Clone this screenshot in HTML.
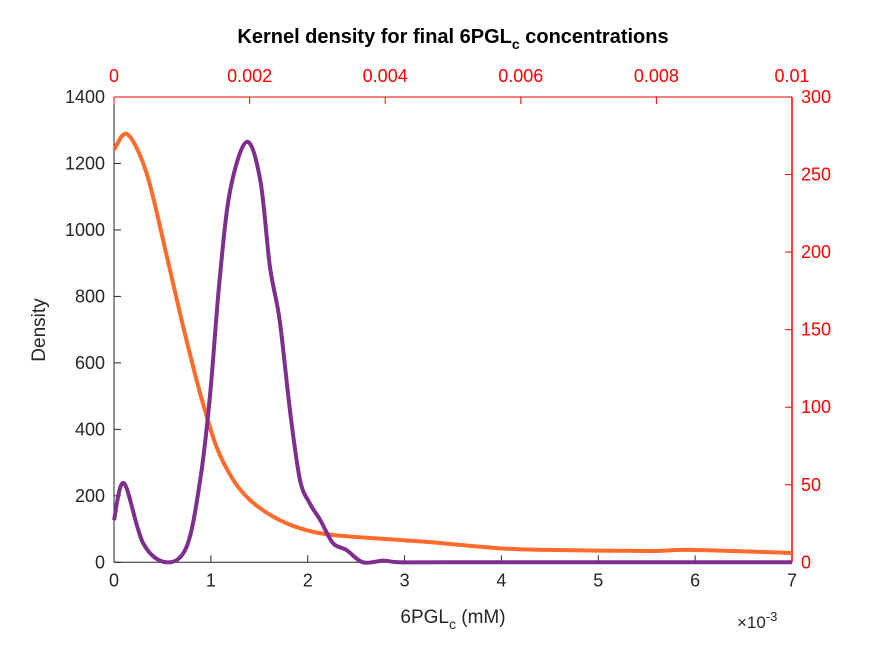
<!DOCTYPE html>
<html><head><meta charset="utf-8"><style>
body{margin:0;background:#fff}
svg{display:block;font-family:"Liberation Sans",Arial,sans-serif}
</style></head><body>
<svg id="c" width="875" height="656"></svg>
<script>
const purpleX=[0,0.103,0.30,0.54,0.75,0.89,0.99,1.09,1.20,1.37,1.51,1.61,1.71,1.82,1.92,2.02,2.13,2.26,2.40,2.57,2.78,2.95,3.5,7];
const purpleY=[127,238,58,0,47,248,498,849,1120,1265,1150,889,729,449,248,178,127,58,37,0,5,0,0,0];
const orangeX=[0,0.000197,0.00048,0.00077,0.00102,0.00127,0.00151,0.00176,0.00201,0.00235,0.00274,0.00323,0.00422,0.00466,0.0057,0.0064,0.0079,0.0085,0.01];
const orangeY=[266,276,251,199,152,109,74.6,53,40,29.4,22,17.6,14.4,13,9,8,7.3,8,6];
const bottomTicks=[0,1,2,3,4,5,6,7];
const leftTicks=[0,200,400,600,800,1000,1200,1400];
const topTicks=[0,0.002,0.004,0.006,0.008,0.01];
const topLabels=["0","0.002","0.004","0.006","0.008","0.01"];
const rightTicks=[0,50,100,150,200,250,300];

const L=114,R=792,T=97,B=562.3;
const xB=v=>L+(v/7)*(R-L), yL=v=>B-(v/1400)*(B-T);
const xT=v=>L+(v/0.01)*(R-L), yR=v=>B-(v/300)*(B-T);
const svg=document.getElementById('c');const NS='http://www.w3.org/2000/svg';
function el(t,a,txt){const e=document.createElementNS(NS,t);for(const k in a)e.setAttribute(k,a[k]);if(txt!==undefined)e.textContent=txt;svg.appendChild(e);return e;}
function smooth(xs,ys){let d='';const p=xs.map((x,i)=>[x,ys[i]]);
 for(let i=0;i<p.length;i++){if(i==0){d+='M'+p[0][0]+','+p[0][1];continue;}
 const p0=p[Math.max(0,i-2)],p1=p[i-1],p2=p[i],p3=p[Math.min(p.length-1,i+1)];
 const c1=[p1[0]+(p2[0]-p0[0])/6,p1[1]+(p2[1]-p0[1])/6],c2=[p2[0]-(p3[0]-p1[0])/6,p2[1]-(p3[1]-p1[1])/6];
 d+=`C${c1[0]},${c1[1]} ${c2[0]},${c2[1]} ${p2[0]},${p2[1]}`;}return d;}
let e;
e=el('rect',{x:L,y:T,width:R-L,height:B-T,fill:'#fff'});
e=el('line',{x1:L,y1:B,x2:R,y2:B,stroke:'#262626'});
bottomTicks.forEach(v=>{el('line',{x1:xB(v),y1:B,x2:xB(v),y2:B-7,stroke:'#262626'});
 e=el('text',{x:xB(v),y:B+24,'text-anchor':'middle','font-size':18,fill:'#262626'},v);});
e=el('line',{x1:L,y1:T,x2:L,y2:B,stroke:'#262626'});
leftTicks.forEach(v=>{el('line',{x1:L,y1:yL(v),x2:L+7,y2:yL(v),stroke:'#262626'});
 e=el('text',{x:L-9,y:yL(v)+6,'text-anchor':'end','font-size':18,fill:'#262626'},v);});
e=el('line',{x1:L,y1:T,x2:R,y2:T,stroke:'#ff0000'});
topTicks.forEach((v,i)=>{el('line',{x1:xT(v),y1:T,x2:xT(v),y2:T+7,stroke:'#ff0000'});
 e=el('text',{x:xT(v),y:T-15,'text-anchor':'middle','font-size':18,fill:'#ff0000'},topLabels[i]);});
e=el('line',{x1:R,y1:T,x2:R,y2:B,stroke:'#ff0000','stroke-width':1.5});
rightTicks.forEach(v=>{el('line',{x1:R,y1:yR(v),x2:R-7,y2:yR(v),stroke:'#ff0000'});
 e=el('text',{x:R+9,y:yR(v)+6,'text-anchor':'start','font-size':18,fill:'#ff0000'},v);});
e=el('path',{d:smooth(orangeX.map(xT),orangeY.map(yR)),fill:'none',stroke:'#ff6b2b','stroke-width':4,'stroke-linejoin':'round'});
e=el('path',{d:smooth(purpleX.map(xB),purpleY.map(yL)),fill:'none',stroke:'#7e2f8e','stroke-width':4,'stroke-linejoin':'round'});
e=el('text',{x:453,y:43,'text-anchor':'middle','font-size':20,'font-weight':'bold',fill:'#000'});
e.innerHTML='Kernel density for final 6PGL<tspan dy="6" font-size="14">c</tspan><tspan dy="-6"> concentrations</tspan>';
e=el('text',{x:453,y:623,'text-anchor':'middle','font-size':19,fill:'#262626'});
e.innerHTML='6PGL<tspan dy="6" font-size="14">c</tspan><tspan dy="-6"> (mM)</tspan>';
e=el('text',{x:45,y:330,'text-anchor':'middle','font-size':19,fill:'#262626',transform:'rotate(-90 45 330)'},'Density');
e=el('text',{x:737,y:628,'font-size':17,fill:'#262626'});
e.innerHTML='×10<tspan dy="-7" font-size="13">-3</tspan>';
</script>
</body></html>
